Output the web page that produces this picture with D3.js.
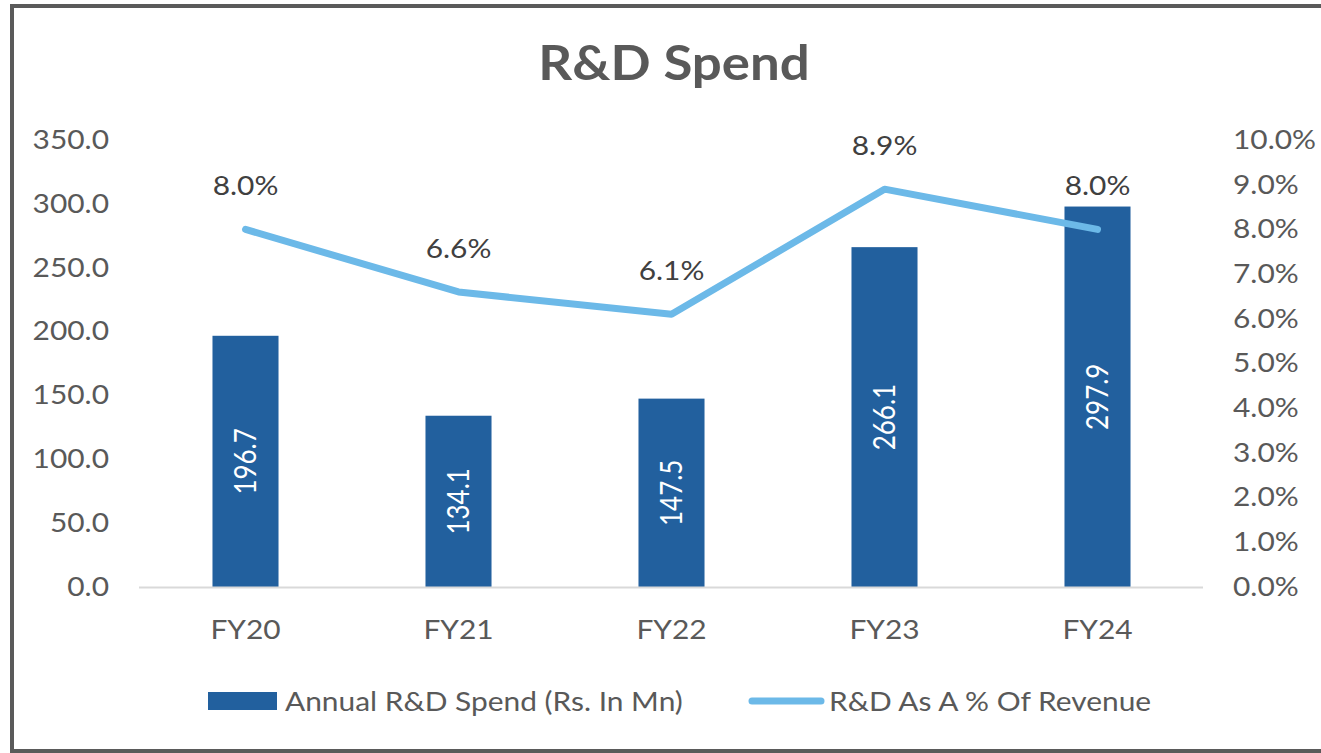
<!DOCTYPE html>
<html><head><meta charset="utf-8">
<script src="https://cdn.jsdelivr.net/npm/d3@7"></script>
<style>html,body{margin:0;padding:0;background:#fff;}svg{display:block;}</style>
</head><body>
<svg id="c" width="1321" height="753"></svg>
<script>
const categories = ["FY20","FY21","FY22","FY23","FY24"];
const spendValues = [196.7,134.1,147.5,266.1,297.9];
const pctValues = [8.0,6.6,6.1,8.9,8.0];
const leftTicks = [0,50,100,150,200,250,300,350];
const rightTicks = [0,1,2,3,4,5,6,7,8,9,10];
const seriesNames = ["Annual R&D Spend (Rs. In Mn)","R&D As A % Of Revenue"];

const W=1321,H=753;
const font="Lato, 'Open Sans', sans-serif";
const gray="#595959";
const barColor="#22609E", lineColor="#6CB9E8";
const SX=1.15, FS=26;
const svg=d3.select("#c");
svg.append("rect").attr("x",0).attr("y",0).attr("width",W).attr("height",H).attr("fill","#fff");
// frame
svg.append("path").attr("d","M12,753 L12,6 L1321,6").attr("fill","none").attr("stroke","#5a5a5a").attr("stroke-width",4);
svg.append("line").attr("x1",12).attr("x2",1321).attr("y1",751).attr("y2",751).attr("stroke","#5a5a5a").attr("stroke-width",4);

const x=d3.scaleBand().domain(categories).range([139,1204]).paddingInner(0.69).paddingOuter(0.345);
const y=d3.scaleLinear().domain([0,350]).range([587,140]);
const y2=d3.scaleLinear().domain([0,10]).range([587,140]);

function hText(g,px,py,txt,opts){
  const t=g.append("text").attr("transform",`translate(${px},${py}) scale(${opts.sx||SX},1)`)
    .attr("text-anchor",opts.anchor||"start").attr("font-family",font)
    .attr("font-size",opts.size||FS).attr("fill",opts.fill||gray).text(txt);
  if(opts.bold) t.attr("font-weight","bold");
  return t;
}

hText(svg,674,80,"R&D Spend",{anchor:"middle",size:48,bold:true,sx:1.1});

// left axis
const la=svg.append("g").attr("transform","translate(109,0)")
  .call(d3.axisLeft(y).tickValues(leftTicks).tickSize(0).tickPadding(0).tickFormat(d3.format(".1f")));
la.select(".domain").remove();
la.selectAll("text").attr("font-family",font).attr("font-size",FS).attr("fill",gray).attr("transform",`scale(${SX},1)`);
// right axis
const ra=svg.append("g").attr("transform","translate(1233,0)")
  .call(d3.axisRight(y2).tickValues(rightTicks).tickSize(0).tickPadding(0).tickFormat(d=>d.toFixed(1)+"%"));
ra.select(".domain").remove();
ra.selectAll("text").attr("font-family",font).attr("font-size",FS).attr("fill",gray).attr("transform",`scale(${SX},1)`);

// bars
svg.selectAll("rect.bar").data(categories).join("rect").attr("class","bar")
  .attr("x",d=>x(d)).attr("width",x.bandwidth())
  .attr("y",(d,i)=>y(spendValues[i])).attr("height",(d,i)=>y(0)-y(spendValues[i]))
  .attr("fill",barColor);
// baseline
svg.append("line").attr("x1",139).attr("x2",1203).attr("y1",y(0)+0.5).attr("y2",y(0)+0.5)
  .attr("stroke","#d9d9d9").attr("stroke-width",2);

// bar labels
svg.selectAll("text.bl").data(categories).join("text").attr("class","bl")
  .attr("transform",(d,i)=>`translate(${x(d)+x.bandwidth()/2},${(y(spendValues[i])+y(0))/2}) rotate(-90) scale(1,${SX})`)
  .attr("text-anchor","middle").attr("dy","0.35em")
  .attr("font-family",font).attr("font-size",FS).attr("fill","#fff")
  .text((d,i)=>spendValues[i].toFixed(1));

// x axis labels
const xa=svg.append("g").attr("transform","translate(0,639)")
  .call(d3.axisBottom(x).tickSize(0).tickPadding(0));
xa.select(".domain").remove();
xa.selectAll("text").attr("font-family",font).attr("font-size",FS).attr("fill",gray).attr("dy","0").attr("y",0)
  .attr("transform",`scale(${SX},1)`);

// line
const cx=d=>x(d)+x.bandwidth()/2;
svg.append("path").datum(categories)
  .attr("d",d3.line().x(d=>cx(d)).y((d,i)=>y2(pctValues[i])))
  .attr("fill","none").attr("stroke",lineColor).attr("stroke-width",7)
  .attr("stroke-linecap","round").attr("stroke-linejoin","round");

// line labels
categories.forEach((d,i)=>{
  hText(svg,cx(d),y2(pctValues[i])-34,pctValues[i].toFixed(1)+"%",{anchor:"middle",fill:"#404040"});
});

// legend
const lg=svg.append("g");
lg.append("rect").attr("x",208).attr("y",692).attr("width",69).attr("height",18).attr("fill",barColor);
hText(lg,285,711,seriesNames[0],{});
lg.append("line").attr("x1",752).attr("x2",821).attr("y1",701).attr("y2",701).attr("stroke",lineColor).attr("stroke-width",7).attr("stroke-linecap","round");
hText(lg,829,711,seriesNames[1],{});
</script>
</body></html>
